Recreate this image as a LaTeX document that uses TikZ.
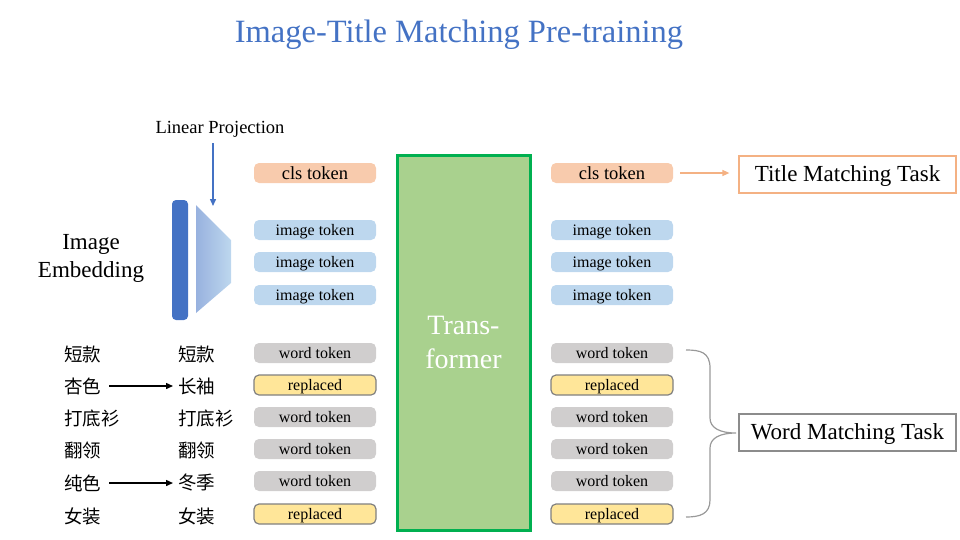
\documentclass[tikz,border=0pt]{standalone}
\usepackage{fontspec}
\setmainfont{Liberation Serif}
\newfontfamily\cjk{Noto Sans CJK SC}
\usetikzlibrary{arrows.meta}
\definecolor{tblue}{HTML}{4472C4}
\definecolor{clsfill}{HTML}{F8CBAD}
\definecolor{imgfill}{HTML}{BDD7EE}
\definecolor{wordfill}{HTML}{D0CECE}
\definecolor{repfill}{HTML}{FFE699}
\definecolor{trfill}{HTML}{A9D18E}
\definecolor{trborder}{HTML}{00B050}
\definecolor{orangeb}{HTML}{F4B183}
\tikzset{
  tok/.style={rounded corners=5pt, minimum width=122pt, minimum height=20pt, inner sep=0pt, text height=14pt, text depth=3pt, font=\fontsize{16}{16}\selectfont},
  clstok/.style={tok, fill=clsfill, font=\fontsize{18.5}{18.5}\selectfont, text height=15.5pt, text depth=3pt},
  imgtok/.style={tok, fill=imgfill},
  wordtok/.style={tok, fill=wordfill},
  reptok/.style={tok, fill=repfill, draw=black!50, line width=1.2pt},
  cn/.style={font=\cjk\fontsize{18.5}{18.5}\selectfont, anchor=west, inner sep=0pt},
  taskbox/.style={draw, line width=1.2pt, minimum width=217pt, minimum height=37pt, inner sep=0pt, fill=white, text height=19pt, text depth=5pt, font=\fontsize{23}{23}\selectfont},
  arr/.style={line width=1.4pt, -{Triangle[length=7pt,width=6pt]}},
}
\begin{document}
\begin{tikzpicture}[x=1pt,y=-1pt]
\useasboundingbox (0,0) rectangle (960,539);
\node[text=tblue, font=\fontsize{32.5}{32.5}\selectfont] (title) at (459,34.5) {Image-Title Matching Pre-training};

% Image embedding
\node[align=center, font=\fontsize{23}{28}\selectfont] (imgemb) at (91,258.5) {Image\\Embedding};
\node[fill=tblue, rounded corners=4pt, minimum width=16pt, minimum height=120pt, inner sep=0pt] (bar) at (180,260) {};
\shade[left color=tblue!55, right color=imgfill] (196,205) -- (231,240) -- (231,283) -- (196,313) -- cycle;
\coordinate (projtop) at (213,206);
\node[font=\fontsize{18.5}{18.5}\selectfont] (linproj) at (220,129) {Linear Projection};
\draw[arr, tblue] (213,143) -- (projtop);

% Left tokens
\node[clstok] (lcls) at (315,173) {cls token};
\node[imgtok] (li1) at (315,230) {image token};
\node[imgtok] (li2) at (315,262) {image token};
\node[imgtok] (li3) at (315,295) {image token};
\node[wordtok] (lw1) at (315,353) {word token};
\node[reptok] (lw2) at (315,385) {replaced};
\node[wordtok] (lw3) at (315,417) {word token};
\node[wordtok] (lw4) at (315,449) {word token};
\node[wordtok] (lw5) at (315,481) {word token};
\node[reptok] (lw6) at (315,514) {replaced};

% Transformer
\node[fill=trfill, draw=trborder, line width=3pt, minimum width=133pt, minimum height=375pt, inner sep=0pt, align=center, text=white, font=\fontsize{28}{34}\selectfont] (trans) at (463.5,342.5) {Trans-\\former};

% Right tokens
\node[clstok] (rcls) at (612,173) {cls token};
\node[imgtok] (ri1) at (612,230) {image token};
\node[imgtok] (ri2) at (612,262) {image token};
\node[imgtok] (ri3) at (612,295) {image token};
\node[wordtok] (rw1) at (612,353) {word token};
\node[reptok] (rw2) at (612,385) {replaced};
\node[wordtok] (rw3) at (612,417) {word token};
\node[wordtok] (rw4) at (612,449) {word token};
\node[wordtok] (rw5) at (612,481) {word token};
\node[reptok] (rw6) at (612,514) {replaced};

% Chinese words
\node[cn] (a1) at (64,354) {短款};
\node[cn] (a2) at (64,386) {杏色};
\node[cn] (a3) at (64,418) {打底衫};
\node[cn] (a4) at (64,450) {翻领};
\node[cn] (a5) at (64,483) {纯色};
\node[cn] (a6) at (64,516) {女装};
\node[cn] (b1) at (178,354) {短款};
\node[cn] (b2) at (178,386) {长袖};
\node[cn] (b3) at (178,418) {打底衫};
\node[cn] (b4) at (178,450) {翻领};
\node[cn] (b5) at (178,483) {冬季};
\node[cn] (b6) at (178,516) {女装};
\draw[arr] ([xshift=8pt]a2.east) -- ([xshift=-5pt]b2.west);
\draw[arr] ([xshift=8pt]a5.east) -- ([xshift=-5pt]b5.west);

% Tasks
\node[taskbox, draw=orangeb] (ttask) at (847.5,174.5) {Title Matching Task};
\draw[arr, orangeb] ([xshift=7pt]rcls.east) -- ([xshift=-9pt]rcls.east -| ttask.west);
\node[taskbox, draw=black!45] (wtask) at (847.5,432.5) {Word Matching Task};
\coordinate (bt) at (686,350);
\coordinate (bb) at (686,517);
\coordinate (btip) at (736,433);
\draw[black!40, line width=1.2pt] (bt) .. controls (700,350) and (710,352) .. (710,368)
  -- (710,418) .. controls (710,428) and (720,433) .. (btip)
  .. controls (720,433) and (710,438) .. (710,448)
  -- (710,500) .. controls (710,514) and (700,517) .. (bb);
\end{tikzpicture}
\end{document}
